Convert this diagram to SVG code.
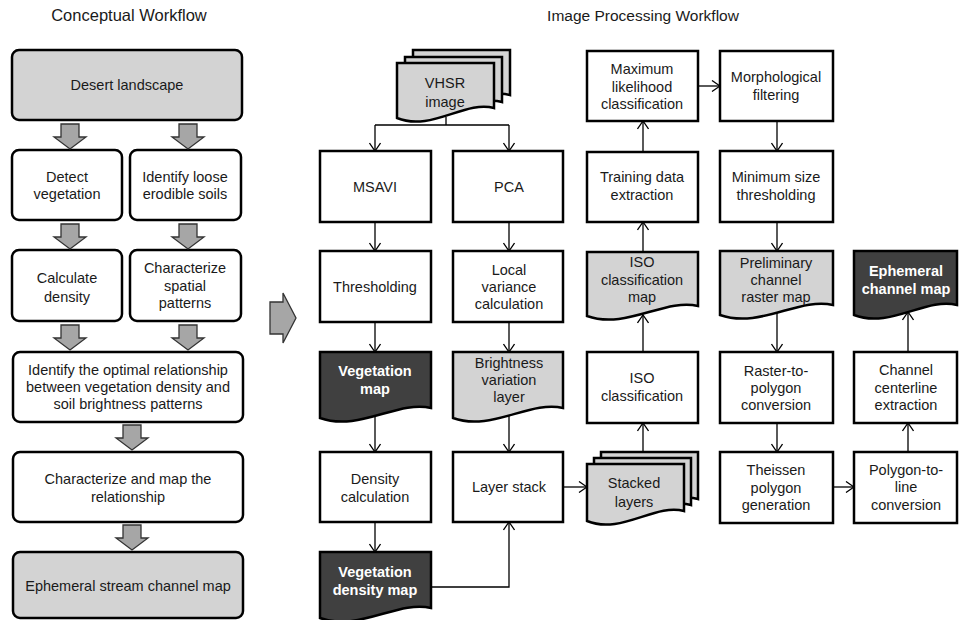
<svg xmlns="http://www.w3.org/2000/svg" width="959" height="620" viewBox="0 0 959 620">
<style>
.box{fill:#fff;stroke:#000;stroke-width:2.5}
.gray{fill:#d3d3d3}
.dark{fill:#404040}
.t{font-family:"Liberation Sans",Arial,sans-serif;font-size:14.5px;text-anchor:middle;fill:#1a1a1a}
.tb{font-weight:bold;fill:#fff}
.title{font-family:"Liberation Sans",Arial,sans-serif;font-size:15.5px;text-anchor:middle;fill:#1a1a1a}
.conn{fill:none;stroke:#000;stroke-width:1.3;marker-end:url(#ah)}
.line{fill:none;stroke:#000;stroke-width:1.3}
.blk{fill:#a6a6a6;stroke:#333;stroke-width:1.3}
</style>
<defs>
<marker id="ah" viewBox="0 0 10 12" refX="9" refY="6" markerWidth="10" markerHeight="12" markerUnits="userSpaceOnUse" orient="auto">
<path d="M1,0.5 L9,6 L1,11.5" fill="none" stroke="#000" stroke-width="1.3"/>
</marker>
<path id="blkarrow" d="M-9,0 H9 V13 H16 L0,25 L-16,13 H-9 Z"/>
</defs>
<rect width="959" height="620" fill="#fff"/>

<text class="title" x="129" y="21" style="font-size:16.5px">Conceptual Workflow</text>
<text class="title" x="643" y="21">Image Processing Workflow</text>

<!-- Conceptual workflow -->
<g id="desert"><rect class="box gray" x="12" y="50" width="230" height="70" rx="7"/><text class="t" x="127" y="90">Desert landscape</text></g>
<g id="detect"><rect class="box" x="12" y="150" width="110" height="70" rx="7"/><text class="t" x="67" y="182">Detect</text><text class="t" x="67" y="199">vegetation</text></g>
<g id="identify"><rect class="box" x="130" y="150" width="111" height="70" rx="7"/><text class="t" x="185" y="182">Identify loose</text><text class="t" x="185" y="199">erodible soils</text></g>
<g id="calcdens"><rect class="box" x="12" y="250" width="110" height="71" rx="7"/><text class="t" x="67" y="283">Calculate</text><text class="t" x="67" y="302">density</text></g>
<g id="charspat"><rect class="box" x="130" y="250" width="111" height="71" rx="7"/><text class="t" x="185" y="273">Characterize</text><text class="t" x="185" y="291">spatial</text><text class="t" x="185" y="308">patterns</text></g>
<g id="optimal"><rect class="box" x="13" y="352" width="230" height="70" rx="7"/><text class="t" x="128" y="375">Identify the optimal relationship</text><text class="t" x="128" y="392">between vegetation density and</text><text class="t" x="128" y="409">soil brightness patterns</text></g>
<g id="charmap"><rect class="box" x="13" y="452" width="230" height="70" rx="7"/><text class="t" x="128" y="484">Characterize and map the</text><text class="t" x="128" y="502">relationship</text></g>
<g id="ephstream"><rect class="box gray" x="13" y="552" width="230" height="66" rx="7"/><text class="t" x="128" y="591">Ephemeral stream channel map</text></g>

<g id="blockarrows">
<use href="#blkarrow" class="blk" transform="translate(70,124)"/>
<use href="#blkarrow" class="blk" transform="translate(188,124)"/>
<use href="#blkarrow" class="blk" transform="translate(70,224)"/>
<use href="#blkarrow" class="blk" transform="translate(188,224)"/>
<use href="#blkarrow" class="blk" transform="translate(70,325)"/>
<use href="#blkarrow" class="blk" transform="translate(188,325)"/>
<use href="#blkarrow" class="blk" transform="translate(132,425)"/>
<use href="#blkarrow" class="blk" transform="translate(132,525)"/>
<path class="blk" d="M270,302 H283 V293 L296,318 L283,343 V334 H270 Z"/>
</g>

<!-- Image processing workflow -->
<g id="vhsr">
<path class="box gray" d="M413,50 H510 V95 C481,87 447,119 413,105 Z"/>
<path class="box gray" d="M405,57 H502 V102 C473,94 439,126 405,112 Z"/>
<path class="box gray" d="M397,63 H494 V108 C465,100 431,132 397,118 Z"/>
<text class="t" x="445" y="88">VHSR</text><text class="t" x="445" y="107">image</text>
</g>
<g id="msavi"><rect class="box" x="320" y="151" width="111" height="71"/><text class="t" x="375" y="192">MSAVI</text></g>
<g id="pca"><rect class="box" x="453" y="151" width="110" height="71"/><text class="t" x="509" y="192">PCA</text></g>
<g id="thresh"><rect class="box" x="320" y="251" width="111" height="71"/><text class="t" x="375" y="292">Thresholding</text></g>
<g id="localvar"><rect class="box" x="453" y="251" width="110" height="71"/><text class="t" x="509" y="275">Local</text><text class="t" x="509" y="292">variance</text><text class="t" x="509" y="309">calculation</text></g>
<g id="vegmap"><path class="box dark" d="M320,352 H431 V408 C398,400 359,432 320,418 Z"/><text class="t tb" x="375" y="376">Vegetation</text><text class="t tb" x="375" y="394">map</text></g>
<g id="brightness"><path class="box gray" d="M453,352 H563 V408 C530,400 491,432 453,418 Z"/><text class="t" x="509" y="368">Brightness</text><text class="t" x="509" y="385">variation</text><text class="t" x="509" y="402">layer</text></g>
<g id="denscalc"><rect class="box" x="320" y="452" width="111" height="70"/><text class="t" x="375" y="484">Density</text><text class="t" x="375" y="502">calculation</text></g>
<g id="layerstack"><rect class="box" x="453" y="452" width="110" height="70"/><text class="t" x="509" y="492">Layer stack</text></g>
<g id="vegdensmap"><path class="box dark" d="M320,552 H431 V608 C398,600 359,632 320,618 Z"/><text class="t tb" x="375" y="577">Vegetation</text><text class="t tb" x="375" y="595">density map</text></g>

<g id="maxlike"><rect class="box" x="587" y="51" width="111" height="70"/><text class="t" x="642" y="74">Maximum</text><text class="t" x="642" y="92">likelihood</text><text class="t" x="642" y="109">classification</text></g>
<g id="training"><rect class="box" x="587" y="152" width="111" height="70"/><text class="t" x="642" y="182">Training data</text><text class="t" x="642" y="200">extraction</text></g>
<g id="isomap"><path class="box gray" d="M587,252 H698 V306 C665,298 626,330 587,316 Z"/><text class="t" x="642" y="267">ISO</text><text class="t" x="642" y="285">classification</text><text class="t" x="642" y="302">map</text></g>
<g id="isoclass"><rect class="box" x="587" y="352" width="111" height="71"/><text class="t" x="642" y="383">ISO</text><text class="t" x="642" y="401">classification</text></g>
<g id="stacked">
<path class="box gray" d="M601,452 H698 V499 C669,491 635,523 601,509 Z"/>
<path class="box gray" d="M594,458 H691 V505 C662,497 628,529 594,515 Z"/>
<path class="box gray" d="M587,464 H684 V511 C655,503 621,535 587,521 Z"/>
<text class="t" x="634" y="488">Stacked</text><text class="t" x="634" y="507">layers</text>
</g>

<g id="morph"><rect class="box" x="720" y="51" width="113" height="70"/><text class="t" x="776" y="82">Morphological</text><text class="t" x="776" y="100">filtering</text></g>
<g id="minsize"><rect class="box" x="720" y="151" width="113" height="71"/><text class="t" x="776" y="182">Minimum size</text><text class="t" x="776" y="200">thresholding</text></g>
<g id="prelim"><path class="box gray" d="M720,251 H833 V305 C799,297 760,329 720,315 Z"/><text class="t" x="776" y="268">Preliminary</text><text class="t" x="776" y="285">channel</text><text class="t" x="776" y="302">raster map</text></g>
<g id="rast2poly"><rect class="box" x="720" y="352" width="113" height="71"/><text class="t" x="776" y="376">Raster-to-</text><text class="t" x="776" y="393">polygon</text><text class="t" x="776" y="410">conversion</text></g>
<g id="theissen"><rect class="box" x="720" y="452" width="113" height="71"/><text class="t" x="776" y="475">Theissen</text><text class="t" x="776" y="493">polygon</text><text class="t" x="776" y="510">generation</text></g>
<g id="ephmap"><path class="box dark" d="M854,251 H957 V305 C926,297 890,329 854,315 Z"/><text class="t tb" x="906" y="276">Ephemeral</text><text class="t tb" x="906" y="294">channel map</text></g>
<g id="centerline"><rect class="box" x="854" y="352" width="103" height="71"/><text class="t" x="906" y="375">Channel</text><text class="t" x="906" y="393">centerline</text><text class="t" x="906" y="410">extraction</text></g>
<g id="poly2line"><rect class="box" x="854" y="452" width="103" height="71"/><text class="t" x="906" y="475">Polygon-to-</text><text class="t" x="906" y="492">line</text><text class="t" x="906" y="510">conversion</text></g>

<g id="connectors">
<path class="line" d="M446,117 V125 M375,125 H509"/>
<path class="conn" d="M375,125 V151"/>
<path class="conn" d="M509,125 V151"/>
<path class="conn" d="M375,222 V251"/>
<path class="conn" d="M375,322 V352"/>
<path class="conn" d="M375,416 V452"/>
<path class="conn" d="M375,522 V552"/>
<path class="conn" d="M431,587 H509 V522"/>
<path class="conn" d="M509,222 V251"/>
<path class="conn" d="M509,322 V352"/>
<path class="conn" d="M509,416 V452"/>
<path class="conn" d="M563,487 H587"/>
<path class="conn" d="M643,452 V423"/>
<path class="conn" d="M643,352 V315"/>
<path class="conn" d="M643,252 V222"/>
<path class="conn" d="M643,152 V121"/>
<path class="conn" d="M698,86 H720"/>
<path class="conn" d="M777,121 V151"/>
<path class="conn" d="M777,222 V251"/>
<path class="conn" d="M777,313 V352"/>
<path class="conn" d="M777,423 V452"/>
<path class="conn" d="M833,487 H854"/>
<path class="conn" d="M908,452 V423"/>
<path class="conn" d="M908,352 V312"/>
</g>
</svg>
